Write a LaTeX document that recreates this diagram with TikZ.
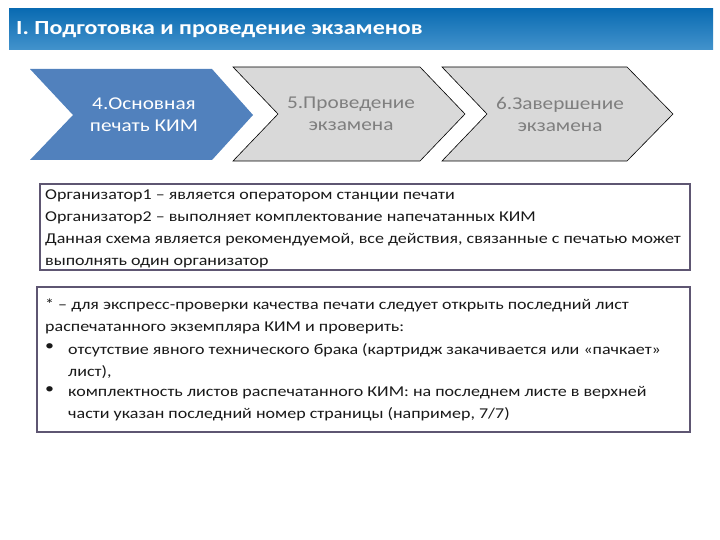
\documentclass[tikz,border=0pt]{standalone}
\usepackage{fontspec}
\setmainfont{Carlito}
\newfontfamily\titlefont[FakeStretch=1.2]{Carlito}
\newfontfamily\chevfont[FakeStretch=1.18]{Carlito}
\newfontfamily\boxfont[FakeStretch=1.2]{Carlito}
\usetikzlibrary{shadings}
\definecolor{barTop}{HTML}{0A6BB2}
\definecolor{barBot}{HTML}{4393CC}
\definecolor{chevBlue}{HTML}{5181BD}
\definecolor{chevGray}{HTML}{D9D9D9}
\definecolor{chevText}{HTML}{7F7F7F}
\definecolor{boxBorder}{HTML}{5E5672}
\tikzset{
  chevblue/.style={fill=chevBlue, draw=none},
  chevgray/.style={fill=chevGray, draw=black, line width=0.6pt},
  chevlabel/.style={align=center, font=\chevfont\fontsize{18}{22}\selectfont},
  infobox/.style={draw=boxBorder, line width=1.8pt, fill=white},
  infotext/.style={align=left, anchor=north west, inner sep=0pt, text=black!90, font=\boxfont\fontsize{15}{22}\selectfont}
}
\begin{document}
\begin{tikzpicture}[x=1pt,y=-1pt]
\useasboundingbox (0,0) rectangle (720,540);
% title bar
\shade[top color=barTop, bottom color=barBot] (9,9) rectangle (713,50);
\node[anchor=west, text=white, font=\titlefont\fontsize{20}{24}\bfseries\selectfont, inner sep=0pt] (title) at (16,30) {I. Подготовка и проведение экзаменов};
% chevrons
\fill[chevblue] (30,69) -- (212,69) -- (253,115) -- (212,160) -- (30,160) -- (73,115) -- cycle;
\node[chevlabel, text=white] (c1) at (144,115) {4.Основная\\печать КИМ};
\filldraw[chevgray] (233,67) -- (420,67) -- (465,114) -- (420,161) -- (233,161) -- (278,114) -- cycle;
\node[chevlabel, text=chevText] (c2) at (351,114) {5.Проведение\\экзамена};
\filldraw[chevgray] (442,67) -- (627,67) -- (673,114) -- (627,161) -- (442,161) -- (487,114) -- cycle;
\node[chevlabel, text=chevText] (c3) at (560,114) {6.Завершение\\экзамена};
% box 1
\draw[infobox] (40,184) rectangle (690,270);
\node[infotext] (t1) at (45,190) {Организатор1 – является оператором станции печати\\
Организатор2 – выполняет комплектование напечатанных КИМ\\
Данная схема является рекомендуемой, все действия, связанные с печатью может\\
выполнять один организатор};
% box 2
\draw[infobox] (37,287) rectangle (690,432);
\node[infotext] (t2) at (45,299) {* – для экспресс-проверки качества печати следует открыть последний лист\\
распечатанного экземпляра КИМ и проверить:};
\node[infotext] (b1) at (45,343) {•};
\node[infotext] (t3) at (68,343) {отсутствие явного технического брака (картридж закачивается или «пачкает»\\лист),};
\node[infotext] (b2) at (45,386) {•};
\node[infotext] (t4) at (68,386) {комплектность листов распечатанного КИМ: на последнем листе в верхней\\части указан последний номер страницы (например, 7/7)};
\end{tikzpicture}
\end{document}
